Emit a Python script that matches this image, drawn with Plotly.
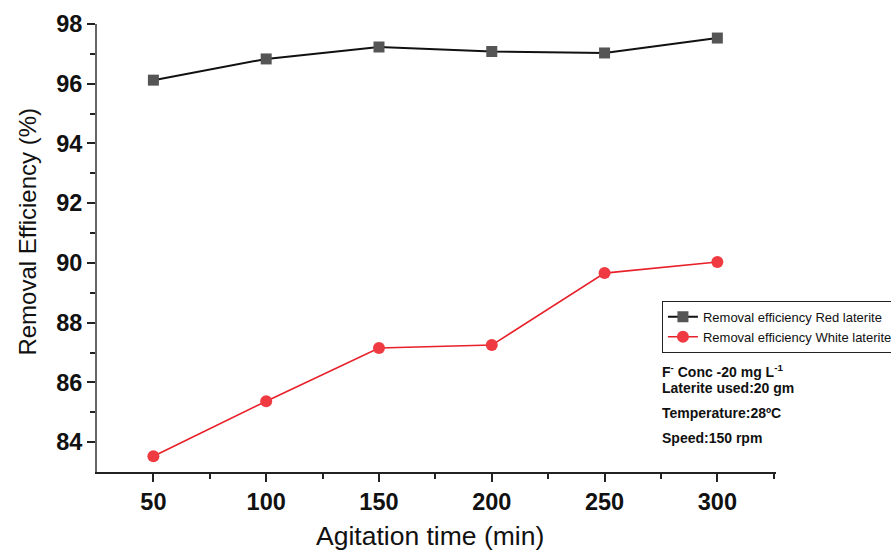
import plotly.graph_objects as go

# Agitation time (min)
agitation_time = [50, 100, 150, 200, 250, 300]
# Fluoride removal efficiency (%)
red_laterite = [96.12, 96.83, 97.23, 97.08, 97.03, 97.53]
white_laterite = [83.53, 85.37, 87.15, 87.25, 89.66, 90.03]

x_ticks = [50, 100, 150, 200, 250, 300]
y_ticks = [84, 86, 88, 90, 92, 94, 96, 98]

# Experimental conditions printed beside the legend (text, paper y)
conditions = [
    ("F<sup>-</sup> Conc -20 mg L<sup>-1</sup>", 0.226),
    ("Laterite used:20 gm", 0.188),
    ("Temperature:28ºC", 0.132),
    ("Speed:150 rpm", 0.077),
]

FONT = "Liberation Sans, Arial, sans-serif"

fig = go.Figure()
fig.add_trace(go.Scatter(
    x=agitation_time, y=red_laterite, mode="lines+markers",
    name="Removal efficiency Red laterite",
    line=dict(color="#111111", width=2),
    marker=dict(symbol="square", size=11, color="#555555"),
))
fig.add_trace(go.Scatter(
    x=agitation_time, y=white_laterite, mode="lines+markers",
    name="Removal efficiency White laterite",
    line=dict(color="#e8202a", width=1.6),
    marker=dict(symbol="circle", size=12, color="#ee3a40"),
))

tick_font = dict(family=FONT, size=23.5, color="#111111", weight="bold")

fig.update_xaxes(
    range=[25, 326], tickvals=x_ticks, ticks="outside", ticklen=8, tickwidth=1.5,
    tickcolor="#222222", showline=True, linecolor="#222222", linewidth=2,
    showgrid=False, zeroline=False, tickfont=tick_font,
    minor=dict(tickvals=[75, 125, 175, 225, 275, 325], ticks="outside", ticklen=5, tickcolor="#222222"),
)
fig.update_yaxes(
    range=[83, 98], tickvals=y_ticks, ticks="outside", ticklen=8, tickwidth=1.5,
    tickcolor="#222222", showline=True, linecolor="#666666", linewidth=2,
    showgrid=False, zeroline=False, tickfont=tick_font,
    minor=dict(tickvals=[85, 87, 89, 91, 93, 95, 97], ticks="outside", ticklen=5, tickcolor="#222222"),
)

# Axis titles
fig.add_annotation(
    x=0.49, y=-0.142, xref="paper", yref="paper", xanchor="center", yanchor="middle",
    text="Agitation time (min)", showarrow=False,
    font=dict(family=FONT, size=26.5, color="#111111"),
)
fig.add_annotation(
    x=-0.102, y=0.536, xref="paper", yref="paper", xanchor="center", yanchor="middle",
    text="Removal Efficiency (%)", showarrow=False, textangle=-90,
    font=dict(family=FONT, size=24, color="#111111"),
)

for text, yp in conditions:
    fig.add_annotation(
        x=0.829, y=yp, xref="paper", yref="paper", xanchor="left", yanchor="middle",
        text=f"<b>{text}</b>", showarrow=False,
        font=dict(family=FONT, size=14, color="#111111"),
    )

fig.update_layout(
    width=891, height=551,
    margin=dict(l=97, r=115, t=24, b=79, autoexpand=False),
    paper_bgcolor="white", plot_bgcolor="white",
    legend=dict(
        x=0.832, y=0.382, xanchor="left", yanchor="top",
        bordercolor="#222222", borderwidth=1, bgcolor="white",
        font=dict(family=FONT, size=13, color="#111111"),
        tracegroupgap=0, itemwidth=30,
    ),
)

fig.write_html("out.html")
